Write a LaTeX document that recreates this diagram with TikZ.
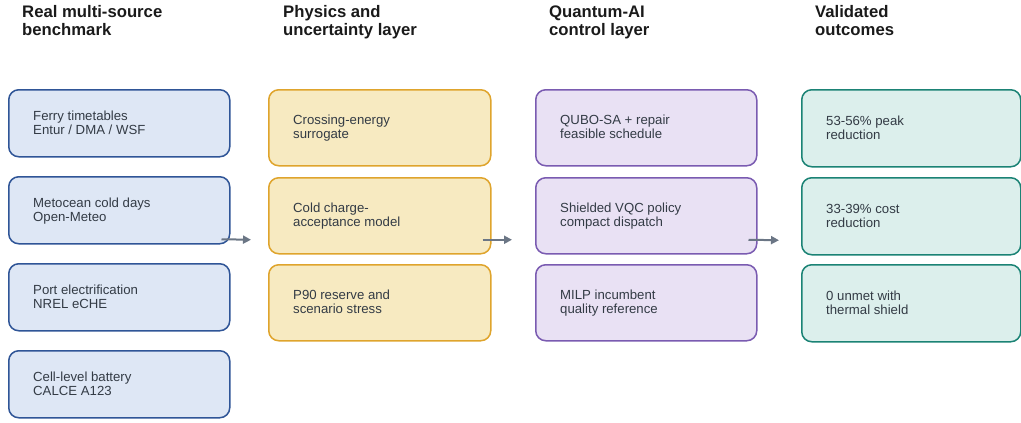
\documentclass[tikz,border=0pt]{standalone}
\usepackage{fontspec}
\setmainfont{Liberation Sans}
\usetikzlibrary{arrows.meta,calc}
\definecolor{txt}{HTML}{333B45}
\definecolor{ttl}{HTML}{1A1A1A}
\definecolor{bfill}{HTML}{DEE7F5}\definecolor{bdraw}{HTML}{2F5597}
\definecolor{yfill}{HTML}{F7EAC1}\definecolor{ydraw}{HTML}{DFA42C}
\definecolor{pfill}{HTML}{E9E1F4}\definecolor{pdraw}{HTML}{7A5BB1}
\definecolor{tfill}{HTML}{DCEFEC}\definecolor{tdraw}{HTML}{1B8375}
\definecolor{arr}{HTML}{6B7685}
\tikzset{
  x=1pt,y=-1pt,
  card/.style={rounded corners=10pt, line width=1.5pt, anchor=north west, inner sep=0pt},
  bcard/.style={card, fill=bfill, draw=bdraw, minimum width=221pt, minimum height=67pt},
  ycard/.style={card, fill=yfill, draw=ydraw, minimum width=222pt, minimum height=76pt},
  pcard/.style={card, fill=pfill, draw=pdraw, minimum width=221pt, minimum height=76pt},
  tcard/.style={card, fill=tfill, draw=tdraw, minimum width=219pt, minimum height=77pt},
  cardtext/.style={anchor=base west, align=left, inner sep=0pt, text=txt,
    font=\fontsize{13.2}{14}\selectfont},
  ttlstyle/.style={anchor=base west, align=left, inner sep=0pt, text=ttl,
    font=\fontsize{16.7}{17.5}\selectfont\bfseries},
  flow/.style={draw=arr, line width=2pt, -{Triangle[length=8pt,width=8pt]}}
}
\newcommand{\cardlabel}[3]{\node[cardtext] (#1) at ($(#2.west)+(25,11)$) {#3};}
\begin{document}
\begin{tikzpicture}
\useasboundingbox (0,0) rectangle (1021,423);
\node[ttlstyle] (h1) at (22,35) {Real multi-source\\benchmark};
\node[ttlstyle] (h2) at (283,35) {Physics and\\uncertainty layer};
\node[ttlstyle] (h3) at (549,35) {Quantum-AI\\control layer};
\node[ttlstyle] (h4) at (815,35) {Validated\\outcomes};

\node[bcard] (b1) at (8,89) {};
\node[bcard] (b2) at (8,176) {};
\node[bcard] (b3) at (8,263) {};
\node[bcard] (b4) at (8,350) {};
\cardlabel{b1t}{b1}{Ferry timetables\\Entur / DMA / WSF}
\cardlabel{b2t}{b2}{Metocean cold days\\Open-Meteo}
\cardlabel{b3t}{b3}{Port electrification\\NREL eCHE}
\cardlabel{b4t}{b4}{Cell-level battery\\CALCE A123}

\node[ycard] (y1) at (268,89) {};
\node[ycard] (y2) at (268,177) {};
\node[ycard] (y3) at (268,264) {};
\cardlabel{y1t}{y1}{Crossing-energy\\surrogate}
\cardlabel{y2t}{y2}{Cold charge-\\acceptance model}
\cardlabel{y3t}{y3}{P90 reserve and\\scenario stress}

\node[pcard] (p1) at (535,89) {};
\node[pcard] (p2) at (535,177) {};
\node[pcard] (p3) at (535,264) {};
\cardlabel{p1t}{p1}{QUBO-SA + repair\\feasible schedule}
\cardlabel{p2t}{p2}{Shielded VQC policy\\compact dispatch}
\cardlabel{p3t}{p3}{MILP incumbent\\quality reference}

\node[tcard] (t1) at (801,89) {};
\node[tcard] (t2) at (801,177) {};
\node[tcard] (t3) at (801,264) {};
\cardlabel{t1t}{t1}{53-56\% peak\\reduction}
\cardlabel{t2t}{t2}{33-39\% cost\\reduction}
\cardlabel{t3t}{t3}{0 unmet with\\thermal shield}

\coordinate (a1s) at ($(b2.east)+(-9,29)$);
\coordinate (a1e) at ($(y2.west)+(-17,24)$);
\coordinate (a2s) at ($(y2.east)+(-9,24)$);
\coordinate (a2e) at ($(p2.west)+(-23,24)$);
\coordinate (a3s) at ($(p2.east)+(-9,24)$);
\coordinate (a3e) at ($(t2.west)+(-22,24)$);
\draw[flow] (a1s) -- (a1e);
\draw[flow] (a2s) -- (a2e);
\draw[flow] (a3s) -- (a3e);
\end{tikzpicture}
\end{document}
